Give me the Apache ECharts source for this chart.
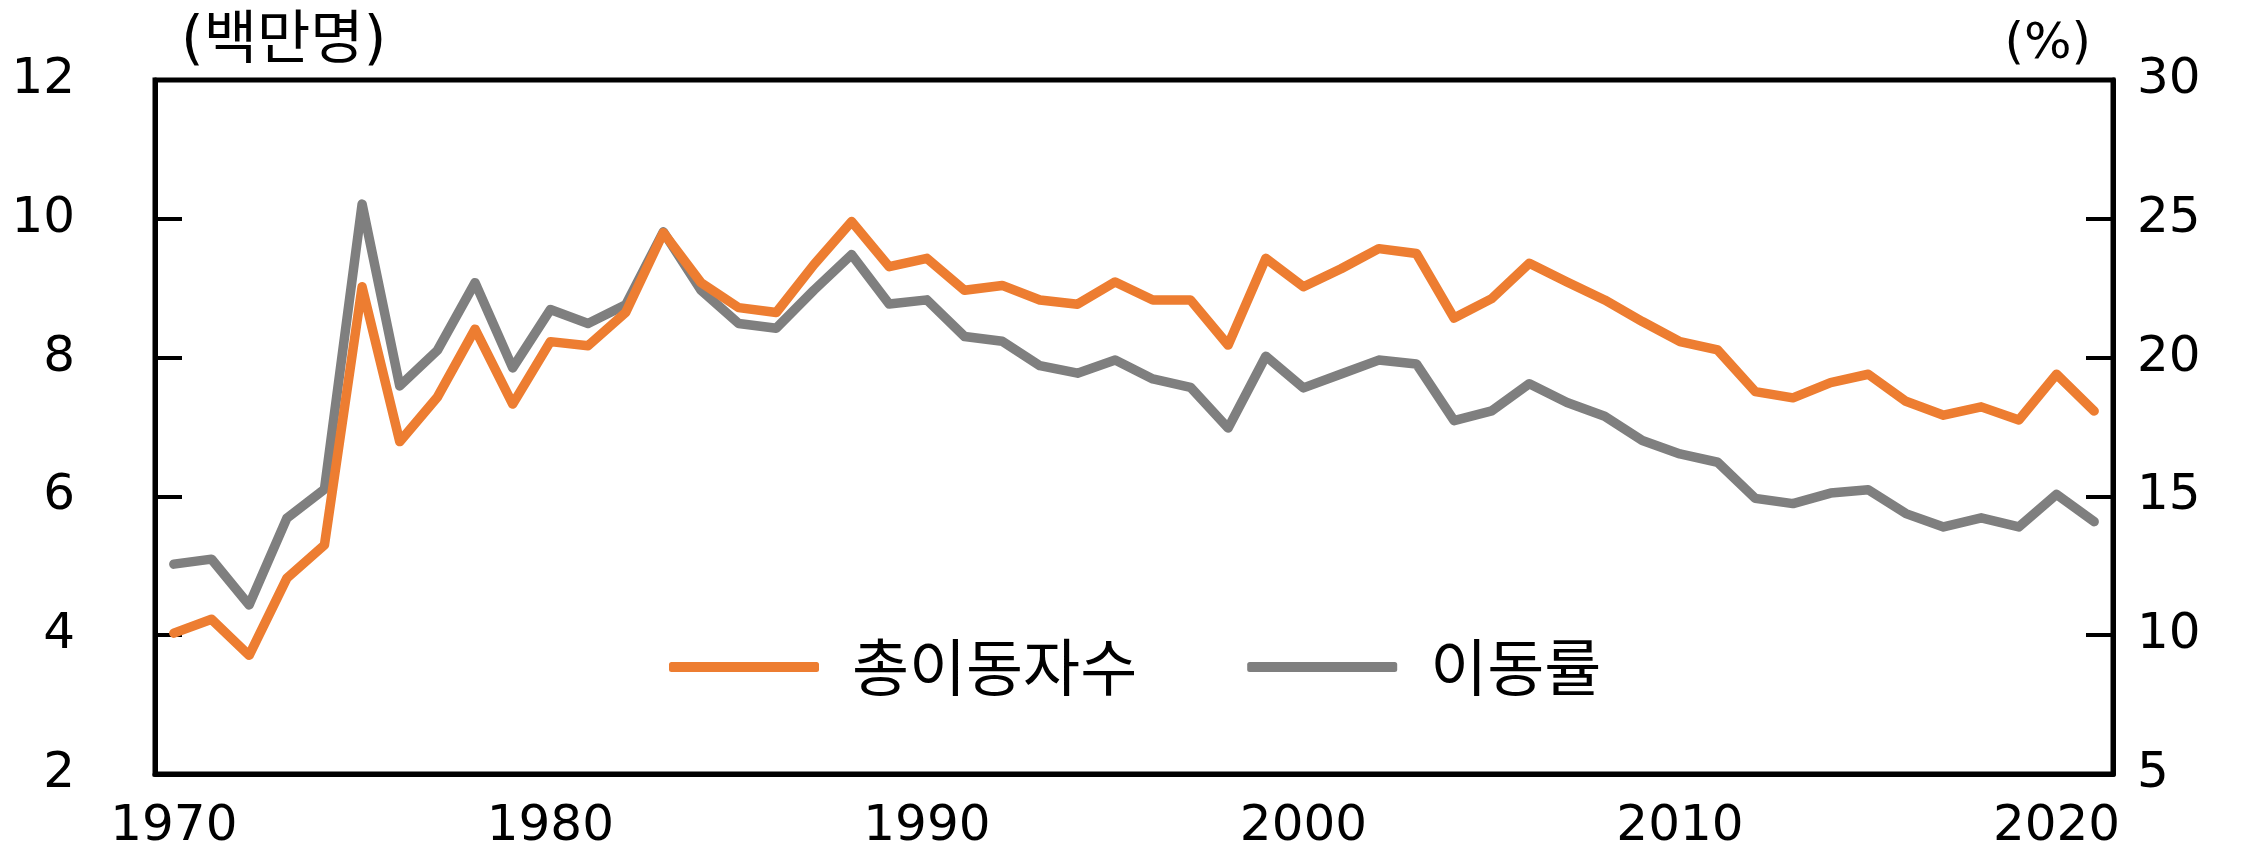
<!DOCTYPE html>
<html>
<head>
<meta charset="utf-8">
<script src="https://cdn.jsdelivr.net/npm/echarts@6/dist/echarts.min.js"></script>
<style>
  html, body { margin: 0; padding: 0; background: #fff; }
  #chart { width: 2249px; height: 852px; }
</style>
</head>
<body>
<div id="chart"></div>
<script>
// 연도 (1970-2021)
const years = [];
for (let y = 1970; y <= 2021; y++) years.push(String(y));

// 총이동자수 (백만명)
const totalMovers = [
  4.03, 4.23, 3.71, 4.82, 5.30, 9.02, 6.79, 7.43, 8.41, 7.33,
  8.23, 8.17, 8.65, 9.80, 9.08, 8.72, 8.65, 9.34, 9.96, 9.31,
  9.43, 8.97, 9.04, 8.83, 8.77, 9.09, 8.83, 8.83, 8.18, 9.43,
  9.02, 9.28, 9.57, 9.50, 8.57, 8.85, 9.36, 9.09, 8.83, 8.52,
  8.23, 8.11, 7.51, 7.42, 7.64, 7.76, 7.37, 7.17, 7.29, 7.10,
  7.76, 7.23
];

// 이동률 (%)
const moveRate = [
  12.56, 12.74, 11.09, 14.21, 15.26, 25.53, 18.98, 20.26, 22.70, 19.63,
  21.73, 21.23, 21.90, 24.53, 22.43, 21.23, 21.06, 22.43, 23.71, 21.93,
  22.08, 20.76, 20.59, 19.71, 19.44, 19.91, 19.23, 18.93, 17.46, 20.05,
  18.91, 19.41, 19.91, 19.77, 17.73, 18.08, 19.06, 18.38, 17.89, 17.01,
  16.53, 16.23, 14.93, 14.74, 15.12, 15.24, 14.38, 13.90, 14.23, 13.90,
  15.07, 14.09
];

const leftTicks = { min: 2, max: 12, interval: 2 };
const rightTicks = { min: 5, max: 30, interval: 5 };

const FONT = 'DejaVu Sans, Noto Sans CJK KR, sans-serif';
const KFONT = 'Noto Sans CJK KR';
const ORANGE = '#ED7D31';
const GRAY = '#7F7F7F';

const chart = echarts.init(document.getElementById('chart'), null, { renderer: 'canvas' });

chart.setOption({
  animation: false,
  grid: {
    left: 155, right: 136, top: 80, bottom: 73,
    show: true, borderColor: '#000', borderWidth: 5, backgroundColor: 'transparent'
  },
  legend: {
    left: 664, top: 631,
    itemWidth: 150, itemHeight: 10, itemGap: 110,
    icon: 'roundRect',
    textStyle: { fontFamily: KFONT, fontSize: 62, color: '#000', padding: [0, 0, 0, 28] },
    data: [
      { name: '총이동자수', itemStyle: { color: ORANGE } },
      { name: '이동률', itemStyle: { color: GRAY } }
    ]
  },
  xAxis: {
    type: 'category',
    data: years,
    boundaryGap: true,
    axisLine: { show: true, lineStyle: { color: '#000', width: 5 } },
    axisTick: { show: false },
    axisLabel: {
      interval: function (idx) { return idx % 10 === 0; },
      color: '#000', fontFamily: FONT, fontSize: 50, margin: 28
    },
    splitLine: { show: false }
  },
  yAxis: [
    {
      type: 'value',
      min: leftTicks.min, max: leftTicks.max, interval: leftTicks.interval,
      name: '(백만명)',
      nameLocation: 'end',
      nameGap: 8,
      nameTextStyle: { fontFamily: FONT, fontSize: 58, color: '#000', align: 'left', padding: [0, 0, 0, 26] },
      axisLine: { show: true, lineStyle: { color: '#000', width: 5 } },
      axisTick: { show: true, inside: true, length: 27, lineStyle: { color: '#000', width: 4 } },
      axisLabel: { color: '#000', fontFamily: FONT, fontSize: 50, margin: 80 },
      splitLine: { show: false }
    },
    {
      type: 'value',
      min: rightTicks.min, max: rightTicks.max, interval: rightTicks.interval,
      name: '(%)',
      nameLocation: 'end',
      nameGap: 10,
      nameTextStyle: { fontFamily: FONT, fontSize: 50, color: '#000', align: 'right', padding: [0, 22, 0, 0] },
      axisLine: { show: true, lineStyle: { color: '#000', width: 5 } },
      axisTick: { show: true, inside: true, length: 27, lineStyle: { color: '#000', width: 4 } },
      axisLabel: { color: '#000', fontFamily: FONT, fontSize: 50, margin: 24 },
      splitLine: { show: false }
    }
  ],
  series: [
    {
      name: '총이동자수',
      type: 'line',
      yAxisIndex: 0,
      data: totalMovers,
      showSymbol: false,
      symbol: 'none',
      lineStyle: { color: ORANGE, width: 9.5, cap: 'round', join: 'round' },
      itemStyle: { color: ORANGE },
      z: 3
    },
    {
      name: '이동률',
      type: 'line',
      yAxisIndex: 1,
      data: moveRate,
      showSymbol: false,
      symbol: 'none',
      lineStyle: { color: GRAY, width: 9.5, cap: 'round', join: 'round' },
      itemStyle: { color: GRAY },
      z: 2
    }
  ]
});
</script>
</body>
</html>
